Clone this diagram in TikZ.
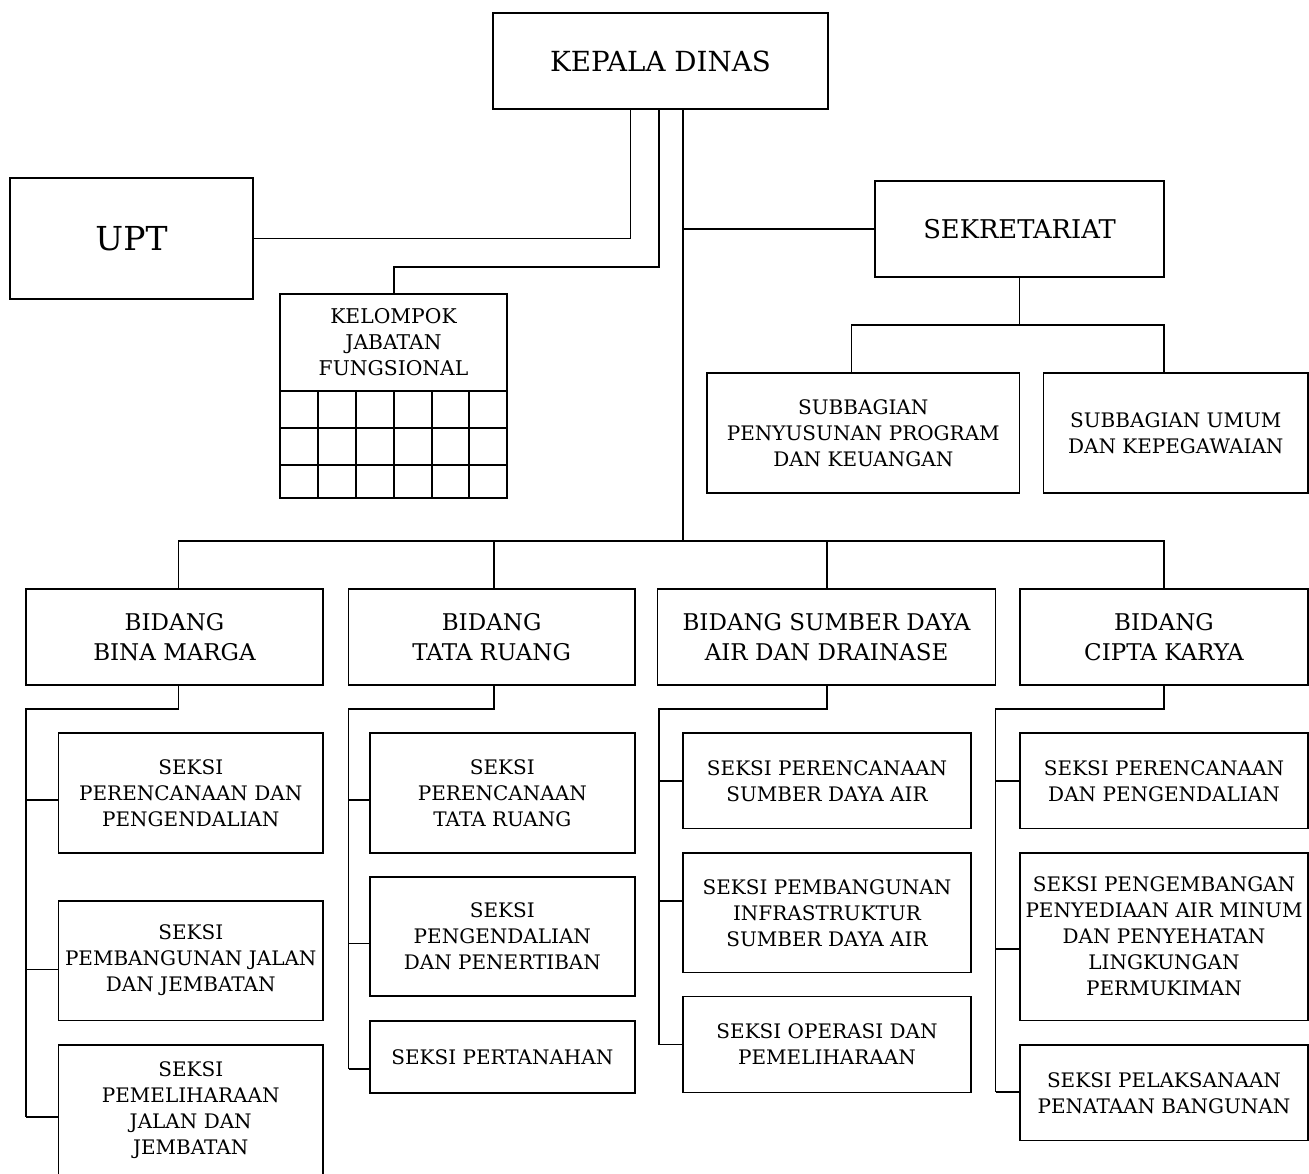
\documentclass[tikz,border=0pt]{standalone}
\usepackage{fontspec}
\setmainfont{DejaVu Serif}
\newcommand\orgbox[7]{\node[#1,minimum width={#5-#3},minimum height={#6-#4}] (#2) at ({(#3+#5)/2},{(#4+#6)/2}) {#7};}
\begin{document}
\begin{tikzpicture}[x=1pt,y=-1pt,
  box/.style={draw,line width=1.6pt,inner sep=0pt,outer sep=0pt,align=center},
  seksi/.style={box,font=\fontsize{20}{26}\selectfont},
  bid/.style={box,font=\fontsize{23}{30}\selectfont},
  conn/.style={line width=1.6pt},
  grid/.style={line width=1.6pt}]
\useasboundingbox (0,0) rectangle (1309,1174);
\clip (0,0) rectangle (1309,1174);
% top level
\orgbox{box,font=\fontsize{27.7}{30}\selectfont}{kepala}{493}{13}{828}{109}{\raisebox{-3pt}{KEPALA DINAS}}
\orgbox{box,font=\fontsize{33}{36}\selectfont}{upt}{10}{178}{253}{299}{UPT}
\orgbox{box,font=\fontsize{20.3}{26}\selectfont}{kjf}{280}{294}{507}{391}{KELOMPOK\\JABATAN\\FUNGSIONAL}
\orgbox{box,font=\fontsize{25.8}{30}\selectfont}{sek}{875}{181}{1164}{277}{SEKRETARIAT}
\orgbox{seksi}{spp}{707}{373}{1019.5}{493}{SUBBAGIAN\\PENYUSUNAN PROGRAM\\DAN KEUANGAN}
\orgbox{seksi}{suk}{1043.5}{373}{1308}{493}{SUBBAGIAN UMUM\\DAN KEPEGAWAIAN}
% grid of KJF
\draw[grid] (kjf.south west) rectangle (507,498);
\foreach \yy in {428,465} \draw[grid] (280,\yy) -- (507,\yy);
\foreach \xx in {318,356,394,432,469} \draw[grid] (\xx,391) -- (\xx,498);
% bidang
\orgbox{bid}{bbm}{26}{589}{323}{685}{BIDANG\\BINA MARGA}
\orgbox{bid}{btr}{348.5}{589}{634.7}{685}{BIDANG\\TATA RUANG}
\orgbox{bid}{bsda}{657.6}{589}{995.5}{685}{BIDANG SUMBER DAYA\\AIR DAN DRAINASE}
\orgbox{bid}{bck}{1020}{589}{1308}{685}{BIDANG\\CIPTA KARYA}
% seksi bina marga
\orgbox{seksi}{bm1}{58.5}{733}{323}{853}{SEKSI\\PERENCANAAN DAN\\PENGENDALIAN}
\orgbox{seksi}{bm2}{58.5}{900.7}{323}{1020.4}{SEKSI\\PEMBANGUNAN JALAN\\DAN JEMBATAN}
\orgbox{seksi}{bm3}{58.5}{1045}{323}{1176}{SEKSI\\PEMELIHARAAN\\JALAN DAN\\JEMBATAN}
% seksi tata ruang
\orgbox{seksi}{tr1}{370}{733}{634.7}{853}{SEKSI\\PERENCANAAN\\TATA RUANG}
\orgbox{seksi}{tr2}{370}{877}{634.7}{996}{SEKSI\\PENGENDALIAN\\DAN PENERTIBAN}
\orgbox{seksi}{tr3}{370}{1021}{634.7}{1093}{SEKSI PERTANAHAN}
% seksi sda
\orgbox{seksi}{sda1}{683}{733}{971}{828.6}{SEKSI PERENCANAAN\\SUMBER DAYA AIR}
\orgbox{seksi}{sda2}{683}{853}{971}{972.5}{SEKSI PEMBANGUNAN\\INFRASTRUKTUR\\SUMBER DAYA AIR}
\orgbox{seksi}{sda3}{683}{996.6}{971}{1092.6}{SEKSI OPERASI DAN\\PEMELIHARAAN}
% seksi cipta karya
\orgbox{seksi}{ck1}{1020}{733}{1308}{828.6}{SEKSI PERENCANAAN\\DAN PENGENDALIAN}
\orgbox{seksi}{ck2}{1020}{853}{1308}{1020.4}{SEKSI PENGEMBANGAN\\PENYEDIAAN AIR MINUM\\DAN PENYEHATAN\\LINGKUNGAN\\PERMUKIMAN}
\orgbox{seksi}{ck3}{1020}{1045}{1308}{1140.5}{SEKSI PELAKSANAAN\\PENATAAN BANGUNAN}
% connector coordinates
\coordinate (kupt) at (630.5,109);
\coordinate (kkjf) at (658.7,109);
\coordinate (kmain) at (683,109);
\coordinate (kjfx) at (394,267);
\coordinate (bar) at (683,541);
\coordinate (sekbar) at (1019.5,325);
% connectors from kepala
\draw[conn] (kupt) |- (upt.east);
\draw[conn] (kkjf) |- (kjfx) -- (kjf.north -| kjfx);
\draw[conn] (kmain) -- (bar);
\draw[conn] (kmain |- sek.west) -- (sek.west);
% sekretariat
\draw[conn] (sek.south) -- (sekbar);
\draw[conn] (spp.north -| 851.6,0) |- (sekbar) -| (suk.north -| 1164,0);
% bidang bar
\draw[conn] (bbm.north -| 178.5,0) |- (bar) -| (bck.north);
\draw[conn] (btr.north -| 493.7,0) -- (493.7,541);
\draw[conn] (bsda.north -| 827,0) -- (827,541);
% bina marga
\draw[conn] (bbm.south -| 178.5,0) |- (26,709) -- (26,1117);
\draw[conn] (26,799.8) -- (bm1.west |- 0,799.8);
\draw[conn] (26,969.5) -- (bm2.west |- 0,969.5);
\draw[conn] (26,1117) -- (bm3.west |- 0,1117);
% tata ruang
\draw[conn] (btr.south -| 493.7,0) |- (348.5,709) -- (348.5,1068.8);
\draw[conn] (348.5,799.8) -- (tr1.west |- 0,799.8);
\draw[conn] (348.5,943.3) -- (tr2.west |- 0,943.3);
\draw[conn] (348.5,1068.8) -- (tr3.west |- 0,1068.8);
% sda
\draw[conn] (bsda.south -| 827,0) |- (659,709) -- (659,1044.6);
\draw[conn] (659,781) -- (sda1.west |- 0,781);
\draw[conn] (659,900.7) -- (sda2.west |- 0,900.7);
\draw[conn] (659,1044.6) -- (sda3.west |- 0,1044.6);
% cipta karya
\draw[conn] (bck.south) |- (995.5,709) -- (995.5,1092);
\draw[conn] (995.5,781) -- (ck1.west |- 0,781);
\draw[conn] (995.5,948.7) -- (ck2.west |- 0,948.7);
\draw[conn] (995.5,1092) -- (ck3.west |- 0,1092);
\end{tikzpicture}
\end{document}
